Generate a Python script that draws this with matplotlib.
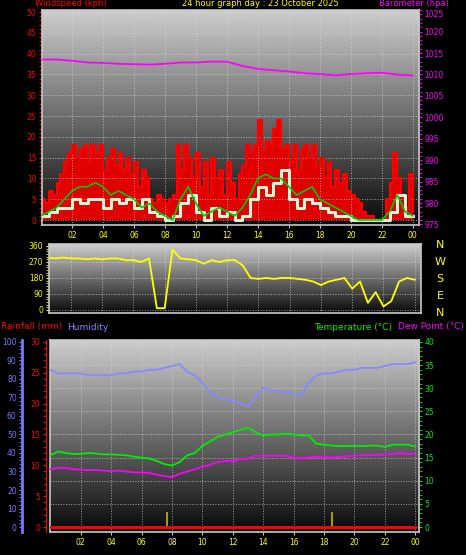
import matplotlib
matplotlib.use('Agg')
import matplotlib.pyplot as plt
import numpy as np

# ---- data ----
title = '24 hour graph day : 23 October 2025'
hour_labels = ['02', '04', '06', '08', '10', '12', '14', '16', '18', '20', '22', '00']

# wind gust every 15 min (kph)
gust = [5, 4, 7, 6, 9, 11, 14, 16, 18, 15, 17, 18, 14, 18, 16, 18, 12, 15, 17, 13,
        16, 12, 15, 11, 14, 8, 12, 10, 5, 4, 6, 5, 4, 5, 6, 18, 12, 18, 15, 10,
        16, 8, 14, 6, 15, 10, 12, 6, 14, 9, 5, 11, 13, 18, 16, 18, 24, 17, 19, 18,
        22, 24, 17, 18, 14, 18, 12, 17, 18, 15, 18, 13, 15, 10, 14, 8, 12, 9, 11, 7,
        6, 5, 4, 2, 1, 1, 0, 0, 0, 5, 9, 16, 10, 6, 3, 11, 2]
# half-hourly series
wind_avg = [1, 2, 3, 5, 7, 8, 8, 9, 8, 6, 7, 6, 5, 3, 4, 2, 1, 0, 5, 8, 4, 1, 2, 3, 2,
            1, 3, 6, 10, 11, 10, 10, 8, 6, 7, 8, 5, 4, 3, 2, 1, 0, 0, 0, 0, 2, 6, 2, 1]
wind_speed = [1, 2, 3, 3, 5, 4, 5, 5, 3, 5, 4, 5, 3, 5, 2, 1, 0, 1, 4, 6, 2, 0, 3, 1, 2,
              0, 1, 5, 8, 6, 9, 12, 5, 3, 5, 4, 3, 2, 1, 1, 0, 0, 0, 0, 0, 2, 6, 1, 1]
baro_hourly = [1013.5, 1013.5, 1013.2, 1012.8, 1012.7, 1012.5, 1012.4, 1012.3, 1012.5,
               1012.8, 1012.8, 1013.0, 1013.0, 1012.0, 1011.3, 1011.0, 1010.7, 1010.3,
               1010.1, 1009.8, 1010.1, 1010.3, 1010.4, 1010.0, 1009.8]
wind_dir = [300, 295, 290, 295, 290, 290, 285, 290, 285, 290, 290, 280, 280, 270, 290, 10,
            10, 340, 290, 285, 280, 260, 280, 270, 280, 280, 250, 180, 175, 180, 175, 180,
            180, 175, 170, 160, 140, 160, 170, 180, 120, 160, 40, 100, 20, 50, 160, 180, 170]
humidity = [85, 83, 83, 83, 83, 82, 82, 82, 82, 83, 83, 84, 84, 85, 85, 86, 87, 88, 84, 82,
            78, 73, 70, 69, 68, 67, 65, 70, 75, 74, 73, 73, 72, 71, 78, 82, 83, 83, 84, 85,
            85, 86, 86, 86, 87, 88, 88, 88, 89]
temperature = [15.5, 16.3, 16, 15.8, 15.8, 16, 15.9, 15.7, 15.7, 15.6, 15.5, 15.2, 15, 14.8,
               14.3, 13.6, 13.3, 14, 15.5, 16, 17.5, 18.5, 19.5, 20, 20.5, 21, 21.5, 20.5,
               19.8, 20, 20, 20.2, 20, 19.8, 19.8, 18, 17.8, 17.6, 17.5, 17.5, 17.5, 17.5,
               17.6, 17.6, 17.3, 17.8, 17.8, 17.8, 17.4]
dew_point = [12.5, 12.8, 12.8, 12.5, 12.4, 12.3, 12.3, 12.2, 12.1, 12.2, 12, 11.8, 11.8, 11.7,
             11.3, 11, 10.8, 11.5, 12, 12.5, 13, 13.5, 14, 14.3, 14.3, 14.7, 14.8, 15.4,
             15.4, 15.4, 15.4, 15.4, 15, 14.8, 15.1, 15.2, 15.2, 15, 15.2, 15.3, 15.4, 15.5,
             15.5, 15.6, 15.6, 15.8, 16, 15.8, 15.8]
rain_mm = [0] * 49
event_hours = [7.7, 18.55]

t15 = np.arange(len(gust)) * 0.25
t30 = np.arange(len(wind_avg)) * 0.5
t60 = np.arange(len(baro_hourly)) * 1.0
tick_pos = np.arange(2, 25, 2)

W, H = 466, 555
fig = plt.figure(figsize=(W / 100, H / 100), dpi=100, facecolor='black')
YEL = '#ffff00'


def box(l, t, r, b):
    return [l / W, 1 - b / H, (r - l) / W, (b - t) / H]


def setup(ax, xlim):
    ax.set_facecolor('black')
    grad = np.linspace(0, 1, 256).reshape(-1, 1)
    ax.imshow(grad, extent=[0, 1, 0, 1], transform=ax.transAxes, aspect='auto',
              cmap='gray', vmin=-0.05, vmax=1.25, origin='lower', zorder=0)
    ax.set_xlim(*xlim)
    ax.set_xticks(tick_pos)
    ax.set_xticklabels(hour_labels, color=YEL, fontsize=5.5)
    ax.tick_params(axis='x', colors='#c0c0c0', labelcolor=YEL, length=2, pad=2)
    ax.grid(True, color='#d8d8d8', linestyle=':', linewidth=0.7, alpha=0.7)
    for s in ax.spines.values():
        s.set_color('#c8c8c8')
        s.set_linewidth(1.2)


# ---- top: wind & barometer ----
ax1 = fig.add_axes(box(42, 10, 419, 225))
setup(ax1, (0.06, 24.4))
ax1b = ax1.twinx()
ax1.set_ylim(-1.2, 50.5)
ax1.set_yticks(np.arange(0, 51, 5))
ax1.set_yticks(np.arange(0, 51, 1), minor=True)
ax1.tick_params(axis='y', which='both', colors='red', labelsize=5.5, length=2, pad=2)
ax1.fill_between(t15, gust, step='post', color='#e00000', lw=0, zorder=1.5)
ax1.step(t15, gust, where='post', color='red', lw=1.6, zorder=2)
ax1.step(t30, wind_speed, where='post', color='#d8f5d8', lw=2.2, zorder=3)
ax1.plot(t30, wind_avg, color='#00cc00', lw=1.2, zorder=4)
ax1b.set_ylim(974.88, 1025.05)
baro_ticks = np.arange(975, 1026, 5)
ax1b.set_yticks(baro_ticks)
ax1b.set_yticklabels([str(v) for v in baro_ticks])
ax1b.set_yticks(np.arange(975, 1026, 1), minor=True)
ax1b.tick_params(axis='y', which='both', colors='magenta', labelsize=5.5, length=2, pad=2)
ax1b.get_yticklabels()[-1].set_va('top')
ax1b.plot(t60, baro_hourly, color='magenta', lw=1.3)
for s in ax1b.spines.values():
    s.set_visible(False)

fig.text(35 / W, 1 - 4 / H, 'Windspeed (kph)', color='red', fontsize=6, va='center')
fig.text(260 / W, 1 - 4 / H, title, color=YEL, fontsize=6, va='center', ha='center')
fig.text(449 / W, 1 - 4 / H, 'Barometer (hpa)', color='magenta', fontsize=6, va='center', ha='right')

# ---- middle: wind direction ----
ax2 = fig.add_axes(box(49, 244, 421, 313))
setup(ax2, (0.6, 24.4))
ax2.set_xticklabels([])
ax2.tick_params(axis='x', length=0)
ax2.set_ylim(-17, 371)
ax2.set_yticks([0, 90, 180, 270, 360])
ax2.set_yticks(np.arange(0, 361, 15), minor=True)
ax2.tick_params(axis='y', which='both', colors=YEL, labelsize=5.5, length=2, pad=2)
ax2.plot(t30, wind_dir, color=YEL, lw=1.3)
for i, d in enumerate(['N', 'W', 'S', 'E', 'N']):
    fig.text(440 / W, 1 - (245 + i * 17) / H, d, color=YEL, fontsize=8, ha='center', va='center')

# ---- bottom: humidity, rain, temperature ----
ax3 = fig.add_axes(box(50, 340, 419, 532))
setup(ax3, (-0.02, 24.25))
ax_h = ax3.twinx()
ax_r = ax3.twinx()
ax3.yaxis.tick_right()
ax3.set_ylim(-1.08, 40.43)
ax3.set_yticks(np.arange(0, 41, 5))
ax3.set_yticks(np.arange(0, 41, 1), minor=True)
ax3.tick_params(axis='y', which='both', colors='#00ee00', labelsize=5.5, length=2, pad=2)
ax3.plot(t30, temperature, color='#00ee00', lw=1.3, zorder=3)
ax3.plot(t30, dew_point, color='magenta', lw=1.3, zorder=3)
ax3.vlines(event_hours, 0, 3.2, color='#c8b400', lw=1.2, zorder=2)

ax_h.set_ylim(-1.08 * 2.5, 40.43 * 2.5)
ax_h.yaxis.tick_left()
ax_h.spines['left'].set_position(('outward', 20))
ax_h.spines['left'].set_color('#7777ff')
ax_h.spines['left'].set_linewidth(2)
for k in ['top', 'right', 'bottom']:
    ax_h.spines[k].set_visible(False)
ax_h.set_yticks(np.arange(0, 101, 10))
ax_h.set_yticks(np.arange(0, 101, 2), minor=True)
ax_h.tick_params(axis='y', which='both', colors='#7777ff', labelsize=5.5, length=2, pad=2)
ax_h.plot(t30, humidity, color='#8888ff', lw=1.3, zorder=3)

ax_r.set_ylim(-1.08 * 0.75, 40.43 * 0.75)
ax_r.yaxis.tick_left()
ax_r.spines['left'].set_position(('outward', 3))
ax_r.spines['left'].set_color('red')
ax_r.spines['left'].set_linewidth(0.8)
for k in ['top', 'right', 'bottom']:
    ax_r.spines[k].set_visible(False)
ax_r.set_yticks(np.arange(0, 31, 5))
ax_r.set_yticks(np.arange(0, 31, 1), minor=True)
ax_r.tick_params(axis='y', which='both', colors='red', labelsize=5.5, length=2, pad=2)
ax_r.plot(t30, rain_mm, color='red', lw=2.2, zorder=4)

fig.text(1 / W, 1 - 327 / H, 'Rainfall (mm)', color='red', fontsize=6.5, va='center')
fig.text(67 / W, 1 - 327 / H, 'Humidity', color='#8888ff', fontsize=6.5, va='center')
fig.text(392 / W, 1 - 327 / H, 'Temperature (\u00b0C)', color='#00ee00', fontsize=6.5, va='center', ha='right')
fig.text(464 / W, 1 - 327 / H, 'Dew Point (\u00b0C)', color='magenta', fontsize=6.5, va='center', ha='right')

fig.savefig('out.png', dpi=100, facecolor='black')
